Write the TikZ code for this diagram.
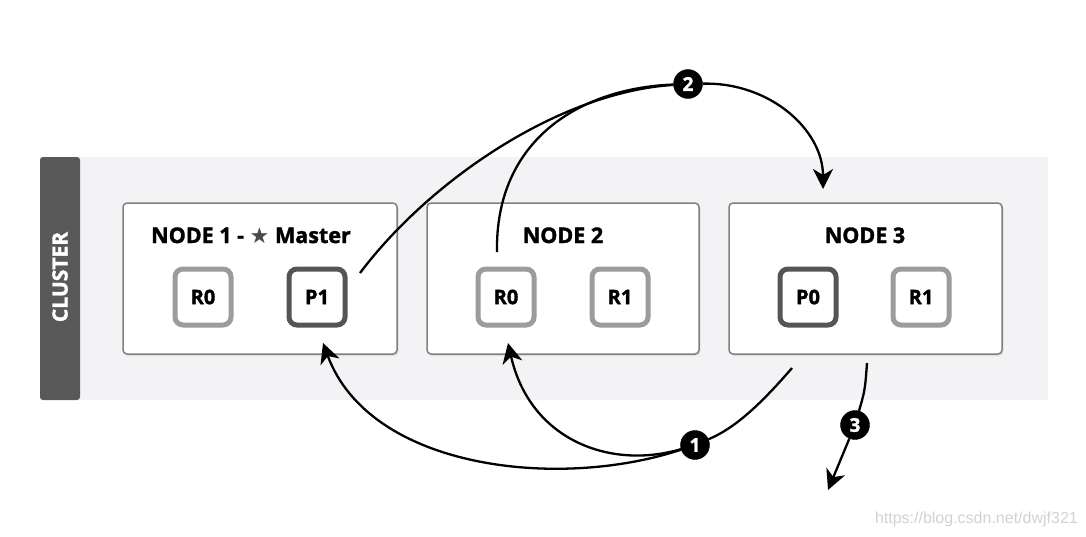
\documentclass[tikz,border=0pt]{standalone}
\usepackage{fontspec}
\setmainfont{Open Sans}[BoldFeatures={FakeBold=1.6}]
\newfontfamily\symfont{DejaVu Sans}
\newfontfamily\wmfont{Liberation Sans}
\usetikzlibrary{arrows.meta}
\definecolor{clusterbg}{HTML}{F3F2F4}
\definecolor{bargray}{HTML}{595959}
\definecolor{boxgray}{HTML}{808080}
\definecolor{rgray}{HTML}{9C9C9C}
\definecolor{pgray}{HTML}{555555}
\definecolor{stargray}{HTML}{4A4A4A}
\definecolor{wmgray}{HTML}{D2D2D2}
\begin{document}
\begin{tikzpicture}[x=1pt,y=-1pt,
  box/.style={draw=boxgray, line width=1.5pt, rounded corners=4pt, fill=white},
  shardR/.style={draw=rgray, line width=5pt, rounded corners=8pt, fill=white,
    minimum width=56pt, minimum height=56pt, inner sep=0pt,
    font=\fontsize{20}{20}\selectfont\bfseries},
  shardP/.style={shardR, draw=pgray},
  title/.style={font=\fontsize{21.5}{21.5}\selectfont\bfseries, anchor=base, inner sep=0pt},
  badge/.style={circle, fill=black, draw=black, minimum size=29pt, inner sep=0pt,
    text=white, font=\fontsize{19}{19}\selectfont\bfseries},
  conn/.style={line width=2.3pt, black},
  tipped/.style={conn, -{Stealth[length=20pt,width=20pt,inset=6pt]}}
]
\useasboundingbox (0,0) rectangle (1086,536);
\fill[white] (0,0) rectangle (1086,536);
% cluster
\fill[clusterbg] (40,157) rectangle (1048,400);
\fill[bargray, rounded corners=3pt] (40,157) rectangle (80,400);
\node[rotate=90, text=white, font=\fontsize{21}{21}\selectfont\bfseries, inner sep=0pt] (cl) at (60,277) {CLUSTER};
% node boxes (soft shadow + box)
\foreach \xa/\xb in {123/397, 427/699, 729/1002}{
  \fill[black!12, rounded corners=4pt] (\xa+1.5,204.5) rectangle (\xb+1.5,356);
}
\draw[box] (123,203) rectangle (397,354);
\draw[box] (427,203) rectangle (699,354);
\draw[box] (729,203) rectangle (1002,354);
\node[title] (t1) at (251,243) {NODE 1 - {\symfont\fontsize{22}{22}\selectfont\color{stargray}★} Master};
\node[title] (t2) at (563,243) {NODE 2};
\node[title] (t3) at (865,243) {NODE 3};
% shards
\node[shardR] (n1r0) at (203,297) {R0};
\node[shardP] (n1p1) at (317,297) {P1};
\node[shardR] (n2r0) at (506,297) {R0};
\node[shardR] (n2r1) at (620,297) {R1};
\node[shardP] (n3p0) at (808,297) {P0};
\node[shardR] (n3r1) at (921,297) {R1};
% badges
\node[badge] (b1) at (695,445) {1};
\node[badge] (b2) at (688,84) {2};
\node[badge] (b3) at (855,425) {3};
% free ends
\coordinate (s1) at (360,273);
\coordinate (s2) at (497,252);
\coordinate (e2) at (823,189);
\coordinate (s3) at (792,368);
\coordinate (e1a) at (323,343);
\coordinate (e1b) at (508,343);
\coordinate (s4) at (867,363);
\coordinate (e4) at (828,490);
% connectors
\draw[conn] (s1) .. controls (430,180) and (560,92) .. (b2);
\draw[conn] (s2) .. controls (495,140) and (580,88) .. (b2);
\draw[tipped] (b2) .. controls (770,82) and (823,130) .. (e2);
\draw[conn] (s3) .. controls (760,405) and (735,428) .. (b1);
\draw[tipped] (b1) .. controls (560,490) and (370,470) .. (e1a);
\draw[tipped] (b1) .. controls (610,470) and (530,440) .. (e1b);
\draw[conn] (s4) .. controls (865,390) .. (b3);
\draw[tipped] (b3) -- (e4);
% watermark
\node[font=\wmfont\fontsize{16}{16}\selectfont, text=wmgray, anchor=base east, inner sep=0pt] (wm) at (1078,523) {https://blog.csdn.net/dwjf321};
\end{tikzpicture}
\end{document}
